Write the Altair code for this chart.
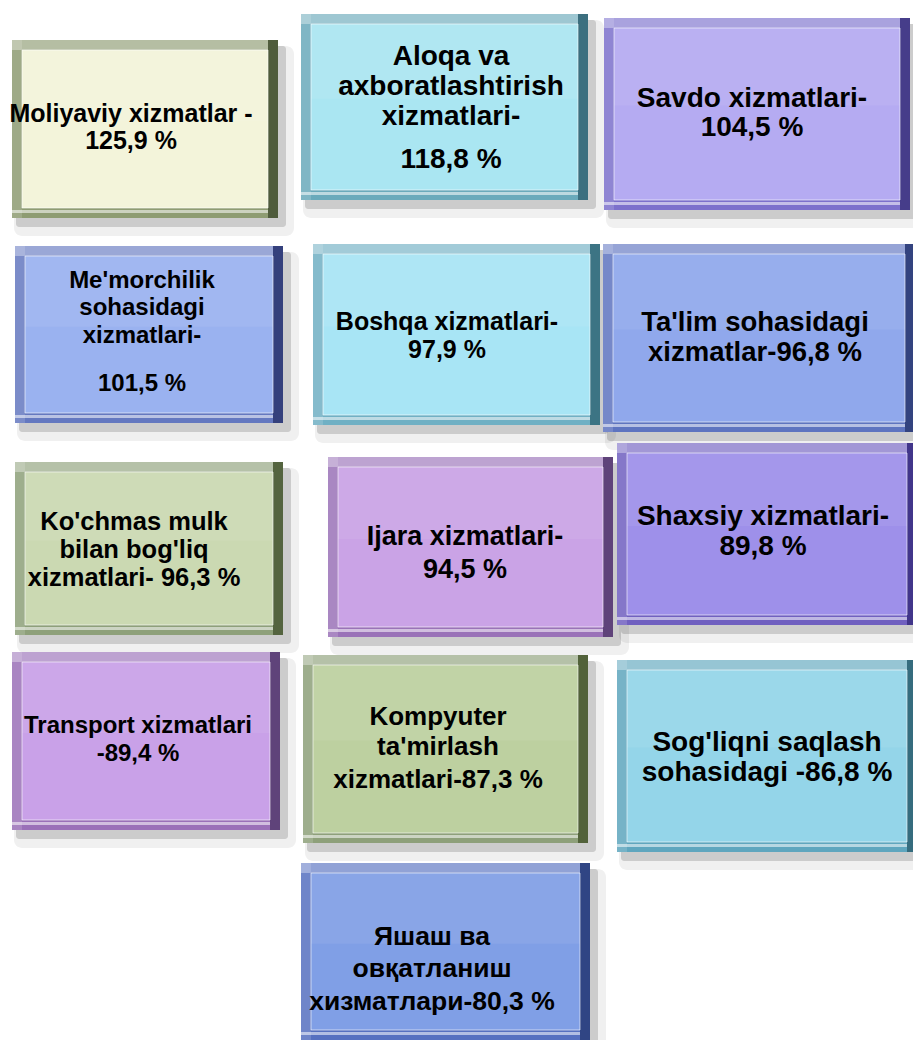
import altair as alt
import pandas as pd

# ---- data ----
names = [
    ["Moliyaviy xizmatlar -", "{} %"],
    ["Aloqa va", "axboratlashtirish", "xizmatlari-", "{} %"],
    ["Savdo xizmatlari-", "{} %"],
    ["Me'morchilik", "sohasidagi", "xizmatlari-", "{} %"],
    ["Boshqa xizmatlari-", "{} %"],
    ["Ta'lim sohasidagi", "xizmatlar-{} %"],
    ["Ko'chmas mulk", "bilan bog'liq", "xizmatlari- {} %"],
    ["Ijara xizmatlari-", "{} %"],
    ["Shaxsiy xizmatlari-", "{} %"],
    ["Transport xizmatlari", "-{} %"],
    ["Kompyuter", "ta'mirlash", "xizmatlari-{} %"],
    ["Sog'liqni saqlash", "sohasidagi -{} %"],
    ["Яшаш ва", "овқатланиш", "хизматлари-{} %"],
]
values = [125.9, 118.8, 104.5, 101.5, 97.9, 96.8, 96.3, 94.5, 89.8, 89.4, 87.3, 86.8, 80.3]

# ---- layout / style (page pixel coordinates) ----
box_x0 = [12, 301, 604, 15, 313, 603, 15, 328, 617, 12, 303, 617, 301]
box_x1 = [278, 588, 910, 283, 600, 915, 283, 613, 917, 280, 588, 917, 590]
box_y0 = [40, 14, 18, 246, 244, 244, 462, 457, 443, 652, 655, 660, 863]
box_y1 = [218, 200, 210, 423, 425, 432, 635, 637, 625, 830, 843, 852, 1040]
text_x = [131, 451, 752, 142, 447, 755, 134, 465, 763, 138, 438, 767, 432]
line_y = [
    [114, 141], [57, 87, 117, 160], [99, 128], [281, 308, 336, 384],
    [322, 350], [323, 353], [522, 550, 578], [537, 570], [517, 547],
    [726, 754], [717, 747, 780], [743, 773], [937, 969, 1002],
]
font_size = [25, 28, 28, 24, 25, 27.5, 25.5, 27, 28, 24, 26, 28, 26.5]
face = ["#f3f4da", "#aae6f2", "#b5abf2", "#9ab2f0", "#a8e5f5", "#90a8ec", "#cbd9b2",
        "#caa3e6", "#9e90ea", "#c9a1e8", "#bdd0a0", "#94d5e9", "#809fe6"]
bevel = ["#8e9c72", "#6aaabb", "#7c70cc", "#6478c0", "#70b0c4", "#5e74c0", "#8ea07a",
         "#9a72b8", "#7060c0", "#9a70b8", "#8ea07a", "#5fa6be", "#5670c0"]
dark = ["#4f5c3c", "#3c6f7f", "#463d8a", "#34407c", "#3c7484", "#33437f", "#54643f",
        "#5f437a", "#41358a", "#5f437a", "#52623a", "#356c7e", "#304584"]

B = 10
boxes = pd.DataFrame({
    "x0": box_x0, "x1": box_x1, "y0": box_y0, "y1": box_y1,
    "face": face, "bevel": bevel, "dark": dark,
})
boxes["ix0"] = boxes.x0 + B
boxes["ix1"] = boxes.x1 - B
boxes["iy0"] = boxes.y0 + B
boxes["iy1"] = boxes.y1 - B

rows = []
for i, (lines, v) in enumerate(zip(names, values)):
    vs = f"{v:.1f}".replace(".", ",")
    for j, ln in enumerate(lines):
        rows.append({"t": ln.replace("{}", vs), "x": text_x[i], "y": line_y[i][j], "fs": font_size[i]})
texts = pd.DataFrame(rows)

W, H = 905, 1032
xs = alt.Scale(domain=[8, 8 + W], nice=False, zero=False)
ys = alt.Scale(domain=[8 + H, 8], nice=False, zero=False)


def X(f):
    return alt.X(f, type="quantitative", scale=xs, axis=None)


def Y(f):
    return alt.Y(f, type="quantitative", scale=ys, axis=None)


base = alt.Chart(boxes)

shadow_big = base.transform_calculate(
    a="datum.x0+2", b="datum.x1+16", c="datum.y0+6", d="datum.y1+18"
).mark_rect(color="#000000", opacity=0.06, cornerRadius=8).encode(
    x=X("a"), x2="b", y=Y("c"), y2="d")
shadow = base.transform_calculate(
    a="datum.x0+4", b="datum.x1+8", c="datum.y0+6", d="datum.y1+9"
).mark_rect(color="#000000", opacity=0.15, cornerRadius=3).encode(
    x=X("a"), x2="b", y=Y("c"), y2="d")
outer = base.mark_rect().encode(
    x=X("x0"), x2="x1", y=Y("y0"), y2="y1", color=alt.Color("bevel:N", scale=None))
top_light = base.transform_calculate(d="datum.y0+10").mark_rect(
    color="#ffffff", opacity=0.35).encode(x=X("x0"), x2="x1", y=Y("y0"), y2="d")
left_light = base.transform_calculate(b="datum.x0+10").mark_rect(
    color="#ffffff", opacity=0.15).encode(x=X("x0"), x2="b", y=Y("y0"), y2="y1")
right_dark = base.transform_calculate(a="datum.x1-10").mark_rect().encode(
    x=X("a"), x2="x1", y=Y("y0"), y2="y1", color=alt.Color("dark:N", scale=None))
bottom_line = base.transform_calculate(c="datum.y1-8", d="datum.y1-5").mark_rect(
    color="#ffffff", opacity=0.55).encode(x=X("x0"), x2="ix1", y=Y("c"), y2="d")
inner = base.mark_rect(stroke="#ffffff", strokeOpacity=0.6, strokeWidth=1).encode(
    x=X("ix0"), x2="ix1", y=Y("iy0"), y2="iy1", color=alt.Color("face:N", scale=None))
inner_gloss = base.transform_calculate(d="datum.iy0 + (datum.iy1-datum.iy0)*0.45").mark_rect(
    color="#ffffff", opacity=0.07).encode(x=X("ix0"), x2="ix1", y=Y("iy0"), y2="d")

text = alt.Chart(texts).mark_text(
    font="Liberation Sans", fontWeight="bold", color="#000000",
    align="center", baseline="middle").encode(
    x=X("x"), y=Y("y"), text="t:N", size=alt.Size("fs:Q", scale=None))

chart = alt.layer(
    shadow_big, shadow, outer, top_light, left_light, right_dark, bottom_line,
    inner, inner_gloss, text
).properties(width=W, height=H, padding=0, autosize="none", background="#ffffff"
).configure_view(stroke=None)

chart.save("out.html", embed_options={"renderer": "svg", "actions": False})
